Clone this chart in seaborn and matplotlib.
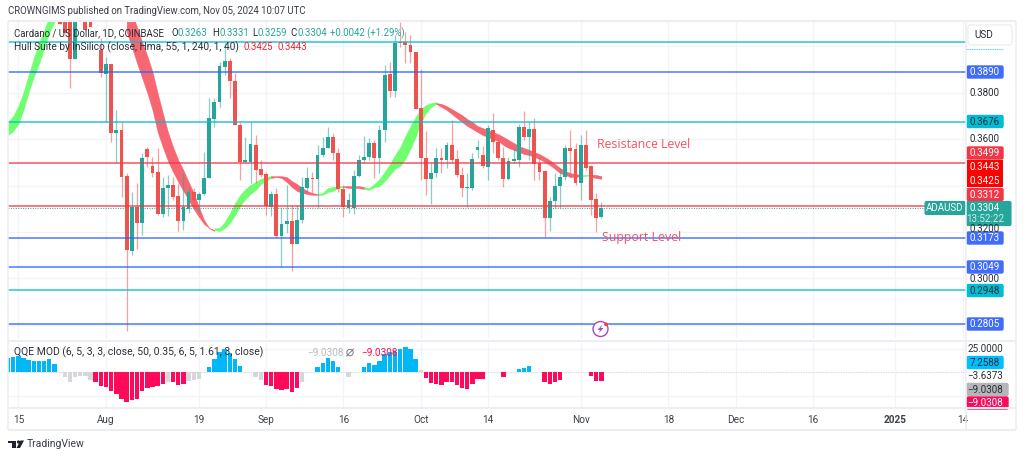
import numpy as np
import matplotlib
matplotlib.use("Agg")
import matplotlib.pyplot as plt
from matplotlib.patches import Rectangle, FancyBboxPatch, Circle, Polygon
import seaborn as sns

# days counted from 1 Aug 2024
first_day = -9
opens = [.4150, .4150, .4150, .3946, .4180, .4130, .4130, .4250, .3985,
         .3881, .3924, .3627, .3640, .3441, .3118, .3308, .3239, .3558, .3485,
         .3459, .3278, .3390, .3403, .3355, .3247, .3299, .3372, .3338, .3364,
         .3433, .3687, .3760, .3911, .3937, .3851, .3661, .3502, .3502, .3575,
         .3472, .3450, .3308, .3364, .3183, .3235, .3247, .3148, .3252, .3390,
         .3433, .3429, .3532, .3562, .3610, .3541, .3385, .3304, .3304, .3441,
         .3510, .3523, .3584, .3519, .3640, .3881, .3808, .4019, .4019, .4006,
         .3976, .3735, .3519, .3429, .3454, .3519, .3510, .3575, .3515, .3446,
         .3390, .3390, .3554, .3532, .3480, .3640, .3588, .3519, .3429, .3506,
         .3510, .3653, .3610, .3644, .3497, .3463, .3260, .3334, .3398, .3437,
         .3562, .3558, .3411, .3575, .3485, .3342, .3263]
highs = [.4200, .4200, .4200, .4200, .4190, .4200, .4200, .4300, .4036,
         .3954, .3924, .3726, .3674, .3454, .3372, .3411, .3541, .3566, .3523,
         .3562, .3437, .3446, .3437, .3411, .3454, .3390, .3390, .3372, .3545,
         .3778, .3778, .3933, .4015, .3950, .3885, .3674, .3610, .3674, .3618,
         .3510, .3459, .3377, .3390, .3308, .3403, .3316, .3316, .3437, .3480,
         .3459, .3575, .3610, .3653, .3627, .3562, .3403, .3368, .3467, .3532,
         .3614, .3605, .3597, .3661, .3920, .3933, .4049, .4105, .4062, .4049,
         .3976, .3903, .3635, .3497, .3562, .3562, .3588, .3683, .3554, .3480,
         .3454, .3541, .3597, .3571, .3661, .3713, .3605, .3566, .3523, .3566,
         .3666, .3722, .3678, .3691, .3523, .3467, .3351, .3454, .3476, .3575,
         .3640, .3584, .3618, .3640, .3489, .3368, .3331]
lows = [.4097, .4058, .3821, .3946, .4170, .4071, .4085, .4110, .3868,
        .3674, .3588, .3497, .3351, .2773, .3101, .3127, .3187, .3480, .3437,
        .3273, .3265, .3269, .3338, .3204, .3209, .3282, .3304, .3282, .3360,
        .3433, .3653, .3739, .3877, .3778, .3661, .3424, .3502, .3411, .3411,
        .3437, .3273, .3269, .3174, .3054, .3196, .3032, .3148, .3239, .3372,
        .3368, .3304, .3523, .3562, .3510, .3372, .3265, .3282, .3278, .3437,
        .3497, .3510, .3433, .3454, .3588, .3782, .3782, .3997, .3928, .3928,
        .3730, .3424, .3360, .3321, .3437, .3454, .3476, .3497, .3437, .3351,
        .3308, .3381, .3519, .3476, .3424, .3541, .3510, .3394, .3424, .3497,
        .3480, .3597, .3510, .3424, .3424, .3179, .3204, .3304, .3304, .3424,
        .3437, .3403, .3338, .3467, .3273, .3200, .3259]
closes = [.4097, .4058, .3946, .4150, .4170, .4071, .4085, .4130, .3885,
          .3924, .3627, .3640, .3437, .3123, .3308, .3239, .3519, .3523, .3454,
          .3278, .3390, .3403, .3351, .3247, .3308, .3372, .3338, .3364, .3433,
          .3691, .3760, .3916, .3937, .3851, .3661, .3502, .3510, .3579, .3467,
          .3446, .3312, .3364, .3183, .3235, .3247, .3148, .3252, .3394, .3433,
          .3429, .3532, .3562, .3610, .3541, .3385, .3308, .3338, .3441, .3510,
          .3523, .3584, .3519, .3640, .3877, .3808, .4015, .4015, .4006, .3976,
          .3730, .3519, .3429, .3454, .3519, .3510, .3575, .3510, .3446, .3390,
          .3394, .3515, .3566, .3485, .3648, .3588, .3519, .3429, .3506, .3515,
          .3653, .3610, .3644, .3493, .3459, .3260, .3334, .3398, .3437, .3562,
          .3549, .3411, .3575, .3476, .3338, .3260, .3304]

level_prices = [.4019, .3890, .3676, .3499, .3312, .3173, .3049, .2948, .2805]
level_colors = ["#00bcd4", "#2962ff", "#00bcd4", "#f23645", "#f23645",
                "#2962ff", "#2962ff", "#00bcd4", "#2962ff"]
last_close = .3304

# hull band: start day, colour, upper edge, lower edge
hull_green = "#5cff5c"
hull_red = "#f7525f"
hull_segments = [
    (-19, hull_green,
     [.3674, .3700, .3743, .3803, .3877, .3950, .4015, .4071, .4127, .4174],
     [.3618, .3635, .3666, .3726, .3803, .3868, .3924, .3993, .4058, .4105]),
    (4, hull_red,
     [.4200, .4144, .4084, .4019, .3959, .3890, .3799, .3713, .3631, .3566,
      .3510, .3467, .3416, .3368, .3308, .3252, .3217, .3209],
     [.4062, .3997, .3928, .3864, .3799, .3726, .3631, .3566, .3506, .3459,
      .3416, .3377, .3338, .3299, .3265, .3235, .3217, .3204]),
    (21, hull_green,
     [.3217, .3217, .3243, .3282, .3325, .3360, .3385, .3403, .3416, .3429, .3437, .3441],
     [.3209, .3204, .3217, .3239, .3273, .3312, .3342, .3364, .3381, .3407, .3420, .3433]),
    (32, hull_red,
     [.3441, .3441, .3441, .3437, .3420, .3407, .3390, .3377, .3368, .3364],
     [.3433, .3437, .3433, .3416, .3394, .3377, .3368, .3364, .3360, .3360]),
    (41, hull_green,
     [.3364, .3368, .3390, .3394, .3398, .3398],
     [.3360, .3360, .3372, .3377, .3390, .3394]),
    (46, hull_red,
     [.3398, .3398, .3398, .3398, .3394],
     [.3394, .3390, .3390, .3390, .3385]),
    (50, hull_green,
     [.3394, .3390, .3407, .3429, .3459, .3493, .3532, .3566, .3614, .3657,
      .3696, .3730, .3747, .3756, .3760],
     [.3385, .3381, .3394, .3398, .3420, .3446, .3472, .3485, .3515, .3558,
      .3610, .3670, .3713, .3739, .3752]),
    (64, hull_red,
     [.3756, .3752, .3743, .3730, .3717, .3704, .3687, .3674, .3657, .3648,
      .3640, .3631, .3622, .3610, .3597, .3584, .3571, .3562, .3554, .3545,
      .3536, .3523, .3510, .3493, .3476, .3463, .3454, .3450, .3446],
     [.3752, .3739, .3726, .3709, .3691, .3674, .3657, .3644, .3631, .3618,
      .3610, .3601, .3592, .3575, .3562, .3554, .3545, .3536, .3532, .3523,
      .3515, .3502, .3489, .3472, .3454, .3446, .3437, .3437, .3441]),
    (92, hull_green, [.3446, .3446, .3448], [.3441, .3441, .3446]),
    (94, hull_red, [.3448, .3446, .3441], [.3437, .3433, .3429]),
]

# QQE histogram
qqe_blue_days = [-19, -18, -17, -16, -15, -14, -13, -12, -11, -10,
                 20, 21, 22, 23, 24, 25, 26, 41, 42, 43, 44, 45,
                 50, 51, 52, 53, 54, 55, 56, 57, 58, 59, 60, 80, 81, 82]
qqe_blue_vals = [15.6, 16.3, 17.4, 15.6, 12.8, 12.2, 12.2, 12.2, 13.9, 8.7,
                 6, 14, 21, 25, 20.5, 14.6, 7, 6, 10.4, 15, 12.5, 6,
                 5.5, 10, 7.6, 11.5, 19.4, 21, 22, 24.6, 26.4, 24.6, 14.6, 3.5, 5, 7]
qqe_pink_days = [-2, -1, 0, 1, 2, 3, 4, 5, 6, 7, 8, 9, 10, 11, 13, 14, 15,
                 31, 32, 33, 34, 35, 36, 37,
                 62, 63, 64, 65, 66, 67, 68, 69, 70, 71, 72, 73, 77,
                 85, 86, 87, 88, 94, 95, 96]
qqe_pink_vals = [-9.7, -14, -15, -20, -23, -28, -31.6, -29.5, -27.8, -20, -16.7, -15, -14, -12,
                 -10.4, -13, -12, -13, -14, -18, -18.4, -18, -21, -16,
                 -6, -11, -12, -13, -10.4, -10.4, -13, -16, -17.7, -12, -7.3, -7, -4.5,
                 -10, -12, -10.4, -7.6, -3.5, -8.7, -9.03]
qqe_grey_days = [-8, -7, -6, -5, -4, -3, 12, 16, 17, 18, 29, 30, 38, 47, 61]
qqe_grey_vals = [-5, -10.4, -5, -4, -3.5, -8, -10, -9, -8, -7, -5, -7.6, -10, -4.5, 2.8]

tick_days = [-17, 0, 18, 31, 46, 61, 74, 92, 109, 122, 137, 153, 166]
tick_labels = ["15", "Aug", "19", "Sep", "16", "Oct", "14", "Nov", "18", "Dec", "16", "2025", "14"]
price_grid = [.28, .30, .32, .34, .36, .38, .40]
qqe_grid = [-25, 0, 25]

BULL = "#26a69a"
BEAR = "#ef5350"
GRID = "#f2f4f9"
BORDER = "#eceef3"
TEXT = "#2a2e39"

sns.set_style("white")
plt.rcParams["font.family"] = ["Roboto", "DejaVu Sans"]

W, H = 1024, 458
fig = plt.figure(figsize=(W / 100, H / 100), dpi=100)


def pane(x0, y0, x1, y1):
    return fig.add_axes([x0 / W, 1 - y1 / H, (x1 - x0) / W, (y1 - y0) / H])


ax = pane(8, 22, 966, 339)
ax2 = pane(8, 343, 966, 407)

# candles
days = np.arange(first_day, first_day + len(opens))
o, h, l, c = map(np.array, (opens, highs, lows, closes))
up = c >= o
for mask, col in ((up, BULL), (~up, BEAR)):
    ax.vlines(days[mask], l[mask], h[mask], color=col, lw=0.9, alpha=0.55, zorder=3)
    bot = np.minimum(o, c)[mask]
    sns.barplot(x=days[mask], y=np.abs(c - o)[mask], bottom=bot, color=col, saturation=1,
                native_scale=True, width=0.74, errorbar=None, ax=ax, zorder=3, linewidth=0)

# hull band sits under the candles
for start, col, upper, lower in hull_segments:
    seg = np.arange(start, start + len(upper))
    ax.fill_between(seg, lower, upper, color=col, alpha=0.88, lw=0.3, zorder=2.5)

for price, col in zip(level_prices, level_colors):
    ax.axhline(price, color=col, lw=1.1, alpha=0.85, zorder=5)
ax.axhline(last_close, color=BULL, lw=0.7, ls=(0, (1, 1.5)), zorder=5)

ax.set_xlim(-19, 166.67)
ax.set_ylim(.2739, .4105)
ax.set_yticks(price_grid)
ax.set_xticks(tick_days)
ax.tick_params(labelleft=False, labelbottom=False, length=0)
ax.grid(True, color=GRID, lw=0.9)
ax.set_axisbelow(True)
ax.set_xlabel("")
ax.set_ylabel("")
sns.despine(ax=ax, left=True, bottom=True)

# qqe pane
for qd, qv, col in ((qqe_blue_days, qqe_blue_vals, "#00b7f7"),
                    (qqe_pink_days, qqe_pink_vals, "#ff0a5a"),
                    (qqe_grey_days, qqe_grey_vals, "#d6d7da")):
    sns.barplot(x=qd, y=qv, color=col, saturation=1, native_scale=True, width=0.86,
                errorbar=None, ax=ax2, linewidth=0, zorder=3)
ax2.axhline(0, color="#c9ccd6", lw=0.6, ls=(0, (1, 2)), zorder=2)
ax2.set_xlim(-19, 166.67)
ax2.set_ylim(-36.5, 31)
ax2.set_yticks(qqe_grid)
ax2.set_xticks(tick_days)
ax2.set_xticklabels(tick_labels, fontsize=7.2, color="#3c404b")
ax2.get_xticklabels()[11].set_fontweight("bold")
ax2.tick_params(labelleft=False, length=0, pad=5.5)
ax2.grid(True, color=GRID, lw=0.9)
ax2.set_axisbelow(True)
ax2.set_xlabel("")
ax2.set_ylabel("")
sns.despine(ax=ax2, left=True, bottom=True)

# overlay in picture pixels: frame, price tags, legends
ov = fig.add_axes([0, 0, 1, 1], zorder=10)
ov.set_xlim(0, W)
ov.set_ylim(H, 0)
ov.axis("off")
ov.patch.set_alpha(0)

for x0, y0, x1, y1 in ((8, 21, 1016, 21), (8, 21, 8, 430), (1016, 21, 1016, 430),
                       (8, 430, 1016, 430), (8, 340.5, 1016, 340.5), (8, 408, 1016, 408),
                       (966, 21, 966, 430)):
    ov.plot([x0, x1], [y0, y1], color=BORDER, lw=1.5 if y0 == y1 else 1.1, solid_capstyle="butt")

ov.text(8, 11.5, "CROWNGIMS published on TradingView.com, Nov 05, 2024 10:07 UTC",
        fontsize=6.9, color="#3a3e49", va="center")

t1 = 14.5
ov.text(t1, 33.5, "Cardano / US Dollar, 1D, COINBASE", fontsize=6.9, color=TEXT, va="center")
for x, s, col in ((171, "O", TEXT), (178, "0.3263", BULL), (212, "H", TEXT), (219, "0.3331", BULL),
                  (252, "L", TEXT), (258, "0.3259", BULL), (290, "C", TEXT), (297, "0.3304", BULL),
                  (330, "+0.0042 (+1.29%)", BULL)):
    ov.text(x, 33.5, s, fontsize=6.9, color=col, va="center")
ov.text(t1, 47, "Hull Suite by InSilico (close, Hma, 55, 1, 240, 1, 40)", fontsize=7.3, color=TEXT, va="center")
ov.text(243.5, 47, "0.3425", fontsize=6.9, color="#f0242f", va="center")
ov.text(277.5, 47, "0.3443", fontsize=6.9, color="#f0242f", va="center")
ov.text(t1, 352.5, "QQE MOD (6, 5, 3, 3, close, 50, 0.35, 6, 5, 1.61, 3, close)",
        fontsize=7.5, color=TEXT, va="center")
ov.text(307, 352.5, "\u22129.0308", fontsize=7.2, color="#b8bac1", va="center")
ov.text(361, 352.5, "\u22129.0308", fontsize=7.2, color="#ff0a5a", va="center")
ov.add_patch(Circle((350, 352.5), 3.2, fc="none", ec="#787b86", lw=0.7))
ov.plot([346.5, 353.5], [356, 349], color="#787b86", lw=0.7)

ov.text(597, 145, "Resistance Level", fontsize=8.85, color="#f2535f", va="center", family="Open Sans")
ov.text(602, 237.5, "Support Level", fontsize=8.9, color="#f2535f", va="center", family="Open Sans")


def tag(y, s, bg, fg="white", x1=1003):
    ov.add_patch(FancyBboxPatch((967, y - 6), x1 - 967, 12, boxstyle="round,pad=0,rounding_size=1.5",
                                fc=bg, ec=bg, lw=1))
    ov.text(985, y + 0.3, s, fontsize=7.1, color=fg, ha="center", va="center")


def axis_label(y, s):
    ov.text(985, y, s, fontsize=7.1, color=TEXT, ha="center", va="center")


ov.add_patch(FancyBboxPatch((968, 25), 44, 20, boxstyle="round,pad=0,rounding_size=2.5", fc="white", ec=BORDER, lw=1))
ov.text(984, 35, "USD", fontsize=7.2, color=TEXT, ha="center", va="center")
ov.plot([966, 1003], [49, 49], color="#5fd3e3", lw=0.8, ls=(0, (1, 0.6)))
tag(72, "0.3890", "#3f6cfb")
axis_label(92.5, "0.3800")
tag(121.5, "0.3676", "#00bcd4", fg=TEXT)
axis_label(139, "0.3600")
tag(153, "0.3499", "#f23645")
ov.add_patch(Rectangle((966.5, 160), 36.5, 27, fc="#ff0000", ec="none", zorder=2))
ov.text(985, 166.5, "0.3443", fontsize=7.1, color="white", ha="center", va="center", zorder=3)
ov.text(985, 180.5, "0.3425", fontsize=7.1, color="white", ha="center", va="center", zorder=3)
tag(194.5, "0.3312", "#f23645")
axis_label(229, "0.3200")
ov.add_patch(FancyBboxPatch((966.5, 201.5), 44.5, 24, boxstyle="round,pad=0,rounding_size=1.5", fc=BULL, ec=BULL, lw=0.8))
ov.text(985, 208, "0.3304", fontsize=7.1, color="white", ha="center", va="center")
ov.text(985.5, 219.5, "13:52:22", fontsize=7.1, color="#c8ebe6", ha="center", va="center")
ov.add_patch(FancyBboxPatch((925, 201.5), 40, 13, boxstyle="round,pad=0,rounding_size=1.5", fc=BULL, ec=BULL, lw=0.8))
ov.text(945, 208.3, "ADAUSD", fontsize=7, color="white", ha="center", va="center")
tag(238, "0.3173", "#3f6cfb")
tag(267, "0.3049", "#3f6cfb")
axis_label(279, "0.3000")
tag(290.5, "0.2948", "#00bcd4", fg=TEXT)
tag(324, "0.2805", "#3f6cfb")
axis_label(348.5, "25.0000")
tag(362.5, "7.2588", "#00bfff", fg=TEXT)
axis_label(376, "\u22123.6373")
tag(389.5, "\u22129.0308", "#b5b6ba", fg=TEXT, x1=1008)
tag(403, "\u22129.0308", "#ff0a5a", x1=1008)

# lightning badge
ov.add_patch(Circle((600.5, 329), 7.5, fc="white", ec="#ab47bc", lw=1))
ov.add_patch(Polygon([(602.5, 324.5), (597.5, 330), (600.3, 330), (598.5, 333.5), (603.5, 328), (600.7, 328)],
                     closed=True, fc="#ab47bc", ec="none"))
ov.add_patch(Circle((606, 324.3), 1.8, fc="#f23645", ec="none"))

# logo
ov.add_patch(Rectangle((8, 440.5), 8, 2.8, fc="#1e222d", ec="none"))
ov.add_patch(Rectangle((11.5, 440.5), 4.5, 7.5, fc="#1e222d", ec="none"))
ov.add_patch(Circle((18.5, 442), 1.6, fc="#1e222d", ec="none"))
ov.add_patch(Polygon([(20.5, 440.5), (24, 440.5), (20, 448), (16.5, 448)], closed=True, fc="#1e222d", ec="none"))
ov.text(27, 444, "TradingView", fontsize=7.5, color="#3a3e49", va="center")

fig.savefig("out.png", dpi=100, facecolor="white")
